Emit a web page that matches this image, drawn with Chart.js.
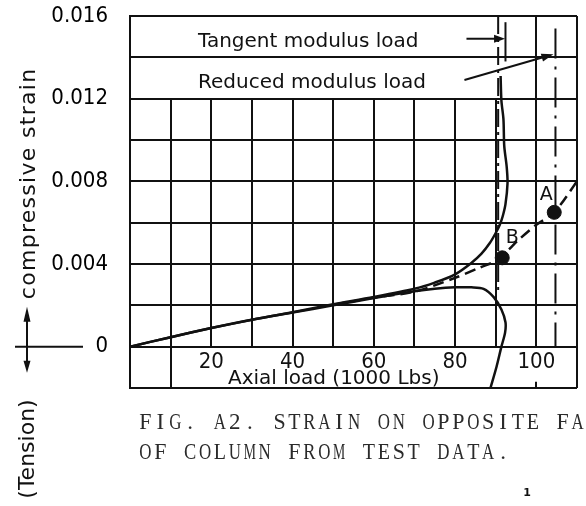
<!DOCTYPE html>
<html>
<head>
<meta charset="utf-8">
<style>
  html, body { margin: 0; padding: 0; background: #fff; }
  #wrap { width: 586px; height: 506px; position: relative; }
</style>
<script src="https://cdn.jsdelivr.net/npm/chart.js@4.4.1/dist/chart.umd.min.js"></script>
</head>
<body>
<div id="wrap"><canvas id="chart"></canvas></div>
<script>
Chart.defaults.color = '#000'
Chart.defaults.font.family = "'DejaVu Sans'"

// axial load in 1000 lbs, strain in in/in
const compLoad   = [0, 10, 20, 30, 40, 50, 60, 70, 75, 80, 84, 86.5, 88.5, 90, 91, 91.7, 92.4, 92.9, 92.7, 92.1, 91.9, 91.4, 91.2]
const compStrain = [0, 0.00046, 0.0009, 0.0013, 0.00167, 0.00205, 0.0024, 0.0028, 0.0031, 0.0035, 0.00405, 0.0045, 0.0050, 0.0055, 0.0059, 0.0063, 0.0069, 0.0079, 0.0087, 0.0097, 0.0110, 0.0119, 0.0131]

const tensLoad   = [0, 10, 20, 30, 40, 50, 60, 70, 75, 80, 84, 87, 89.5, 91.4, 92.4, 92.3, 91.4, 90.2, 88.7]
const tensStrain = [0, 0.00046, 0.0009, 0.0013, 0.00165, 0.002, 0.00235, 0.00268, 0.0028, 0.00287, 0.00287, 0.0028, 0.0024, 0.0018, 0.00118, 0.00068, 0, -0.00097, -0.002]

const theoryLoad   = [50, 60, 70, 80, 86, 90.4, 95.8, 100, 104.4, 110]
const theoryStrain = [0.00203, 0.00237, 0.00266, 0.00333, 0.00382, 0.0042, 0.0052, 0.0059, 0.0065, 0.008]

const markNames  = ['A', 'B']
const markLoad   = [104.4, 91.6]
const markStrain = [0.0065, 0.0043]

const tangentLoad = 90.6
const reducedLoad = 104.7

const xTickLabels = ['20', '40', '60', '80', '100']
const yTickLabels = ['0', '0.004', '0.008', '0.012', '0.016']

// vertical rulings: load value, bottom strain, top strain
const gridLoad = [10, 20, 30, 40, 50, 60, 70, 80, 90, 100, 100, 110]
const gridFrom = [-0.002, 0, 0, 0, 0, 0, 0, 0, 0, 0, -0.002, -0.002]
const gridTo   = [0.012, 0.012, 0.012, 0.012, 0.012, 0.012, 0.012, 0.012, 0.012, 0.016, -0.0017, 0.016]

const captionLines = ['FIG. A2. STRAIN ON OPPOSITE FACES', 'OF COLUMN FROM TEST DATA.']

const ink = '#111'
const tickFont = { family: "'DejaVu Sans Condensed', 'DejaVu Sans'", size: 22 }

const toPoints = (xs, ys) => xs.map((v, i) => ({ x: v, y: ys[i] }))

const curve = (label, xs, ys, dash) => ({
    label: label,
    data: toPoints(xs, ys),
    showLine: true,
    borderColor: ink,
    borderWidth: 2.5,
    borderDash: dash || [],
    pointRadius: 0,
    tension: 0.3,
    fill: false
})

const marker = (label, load, from, to, dash, width) => ({
    label: label,
    data: [{ x: load, y: from }, { x: load, y: to }],
    showLine: true,
    borderColor: ink,
    borderWidth: width,
    borderDash: dash,
    pointRadius: 0
})

function arrowHead(ctx, x, y, angle, len, half) {
    ctx.save()
    ctx.translate(x, y)
    ctx.rotate(angle)
    ctx.beginPath()
    ctx.moveTo(0, 0)
    ctx.lineTo(-len, -half)
    ctx.lineTo(-len, half)
    ctx.closePath()
    ctx.fill()
    ctx.restore()
}

function segment(ctx, x1, y1, x2, y2) {
    ctx.beginPath()
    ctx.moveTo(x1, y1)
    ctx.lineTo(x2, y2)
    ctx.stroke()
}

// typewriter look: serif glyphs squeezed onto a fixed pitch
function typeLine(ctx, text, x, y, pitch) {
    ctx.textAlign = 'center'
    const maxW = pitch * 0.82
    for (let i = 0; i < text.length; i++) {
        const w = ctx.measureText(text[i]).width
        const k = w > maxW ? maxW / w : 1
        ctx.save()
        ctx.translate(x + pitch * (i + 0.5), y)
        ctx.scale(k, 1)
        ctx.fillText(text[i], 0, 0)
        ctx.restore()
    }
}

const figureDecor = {
    id: 'figureDecor',
    beforeDatasetsDraw(chart) {
        const { ctx, scales: { x, y } } = chart
        ctx.save()
        ctx.strokeStyle = ink
        ctx.lineWidth = 2
        gridLoad.forEach((v, i) => {
            const px = Math.round(x.getPixelForValue(v))
            segment(ctx, px, y.getPixelForValue(gridFrom[i]), px, y.getPixelForValue(gridTo[i]))
        })
        ctx.restore()
    },
    afterDraw(chart) {
        const { ctx, scales: { x, y } } = chart
        ctx.save()
        ctx.fillStyle = ink
        ctx.strokeStyle = ink
        ctx.lineWidth = 2

        // load tick labels sit inside the tension band
        ctx.font = "22px 'DejaVu Sans Condensed', 'DejaVu Sans'"
        ctx.textAlign = 'center'
        ctx.textBaseline = 'alphabetic'
        const labelY = y.getPixelForValue(0) + 21
        x.ticks.forEach(t => {
            const s = String(t.value)
            if (xTickLabels.includes(s)) ctx.fillText(s, x.getPixelForValue(t.value), labelY)
        })

        ctx.font = "20px 'DejaVu Sans'"
        ctx.textAlign = 'left'
        ctx.fillText('Axial load (1000 Lbs)', 228, 384)

        // load captions in the two top bands
        ctx.fillText('Tangent modulus load', 198, 47)
        ctx.fillText('Reduced modulus load', 198, 88)

        // arrow to the tangent modulus load
        const ty = y.getPixelForValue(0.0149)
        const tx = x.getPixelForValue(92.3)
        segment(ctx, x.getPixelForValue(82.8), ty, tx - 8, ty)
        arrowHead(ctx, tx, ty, 0, 11, 4)

        // arrow to the reduced modulus load
        const rx1 = x.getPixelForValue(82.3), ry1 = y.getPixelForValue(0.0129)
        const rx2 = x.getPixelForValue(104.2), ry2 = y.getPixelForValue(0.01415)
        const ang = Math.atan2(ry2 - ry1, rx2 - rx1)
        segment(ctx, rx1, ry1, rx2 - 8 * Math.cos(ang), ry2 - 8 * Math.sin(ang))
        arrowHead(ctx, rx2, ry2, ang, 12, 4)

        // point letters
        ctx.font = "19px 'DejaVu Sans'"
        ctx.textAlign = 'center'
        ctx.textBaseline = 'middle'
        const offs = [[-8, -17], [10, -20]]
        markNames.forEach((n, i) => {
            ctx.fillText(n, x.getPixelForValue(markLoad[i]) + offs[i][0], y.getPixelForValue(markStrain[i]) + offs[i][1])
        })

        // sign convention cross on the left
        const zero = y.getPixelForValue(0)
        segment(ctx, 15, zero, 83, zero)
        segment(ctx, 27, zero - 30, 27, zero + 16)
        arrowHead(ctx, 27, zero - 40, -Math.PI / 2, 15, 3.5)
        arrowHead(ctx, 27, zero + 26, Math.PI / 2, 12, 3.5)

        ctx.textBaseline = 'alphabetic'
        ctx.save()
        ctx.translate(35, y.getPixelForValue(0.0079))
        ctx.rotate(-Math.PI / 2)
        ctx.font = "22px 'DejaVu Sans'"
        ctx.letterSpacing = '1.3px'
        ctx.textAlign = 'center'
        ctx.fillText('compressive strain', 0, 0)
        ctx.restore()

        ctx.save()
        ctx.translate(34, 449)
        ctx.rotate(-Math.PI / 2)
        ctx.font = "22px 'DejaVu Sans'"
        ctx.textAlign = 'center'
        ctx.fillText('(Tension)', 0, 0)
        ctx.restore()

        // figure caption
        ctx.fillStyle = '#2a2a2a'
        ctx.font = "23px 'Liberation Serif'"
        typeLine(ctx, captionLines[0], 138, 429, 14.9)
        typeLine(ctx, captionLines[1], 138, 459, 14.9)

        ctx.fillStyle = ink
        ctx.font = "bold 11px 'DejaVu Sans'"
        ctx.textAlign = 'center'
        ctx.fillText('1', 527, 496)
        ctx.restore()
    }
}

const config = {
    type: 'scatter',
    data: {
        datasets: [
            { label: 'Points', data: toPoints(markLoad, markStrain), pointRadius: 7, pointBackgroundColor: ink, pointBorderColor: ink, showLine: false },
            curve('Compression face', compLoad, compStrain),
            curve('Tension face', tensLoad, tensStrain),
            curve('Theory', theoryLoad, theoryStrain, [11, 6]),
            marker('Tangent modulus load', tangentLoad, 0.016, 0.0026, [18, 5, 3, 5], 2),
            marker('Tangent mark', 92.4, 0.0138, 0.0157, [], 2),
            marker('Reduced modulus load', reducedLoad, 0.0154, 0, [30, 8, 3, 8], 2)
        ]
    },
    options: {
        responsive: true,
        maintainAspectRatio: false,
        animation: false,
        layout: {
            padding: { left: 0, right: 9, top: 16, bottom: 118 }
        },
        plugins: {
            legend: { display: false },
            tooltip: { enabled: false }
        },
        scales: {
            x: {
                type: 'linear',
                min: 0,
                max: 110,
                grid: { display: false, drawTicks: false },
                border: { display: false },
                ticks: { display: false, stepSize: 10, autoSkip: false },
                afterFit: (s) => {
                    s.height = 0
                    s.paddingLeft = 0
                    s.paddingRight = 0
                }
            },
            y: {
                min: -0.002,
                max: 0.016,
                grid: { color: ink, lineWidth: 2, drawTicks: false },
                border: { color: ink, width: 2 },
                ticks: {
                    stepSize: 0.002,
                    padding: 22,
                    font: tickFont,
                    callback: (v) => {
                        const s = String(+v.toFixed(3))
                        return yTickLabels.includes(s) ? s : ''
                    }
                },
                afterFit: (s) => {
                    s.width = 130
                    s.paddingTop = 0
                    s.paddingBottom = 0
                }
            }
        }
    },
    plugins: [figureDecor]
}

const chart = new Chart(document.getElementById('chart'), config)
</script>
</body>
</html>
